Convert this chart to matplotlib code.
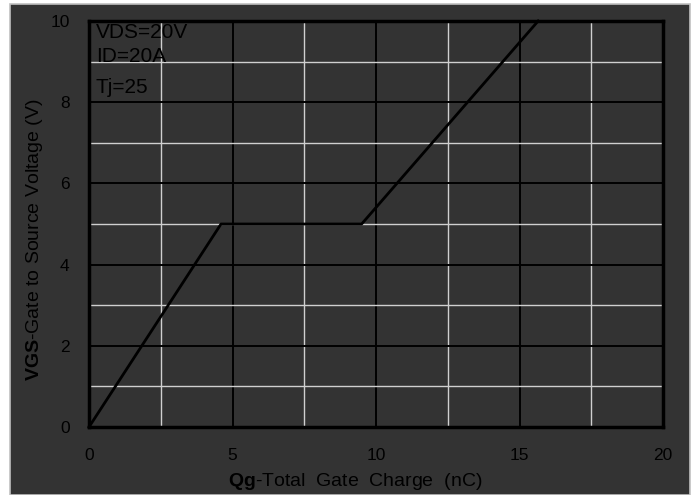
import matplotlib
matplotlib.use("Agg")
import matplotlib.pyplot as plt
from matplotlib.patches import Rectangle
from matplotlib.ticker import MultipleLocator

# Gate charge curve: Qg (nC) vs VGS (V)
qg = [0.0, 4.6, 9.5, 15.65]
vgs = [0.0, 5.0, 5.0, 10.0]

x_ticks = [0, 5, 10, 15, 20]
y_ticks = [0, 2, 4, 6, 8, 10]
conditions = ["VDS=20V", "ID=20A", "Tj=25"]

plt.rcParams["font.family"] = ["Liberation Sans", "DejaVu Sans"]
plt.rcParams["mathtext.fontset"] = "custom"
plt.rcParams["mathtext.bf"] = "Liberation Sans:bold"
plt.rcParams["mathtext.rm"] = "Liberation Sans"

bg = "#333333"
fig = plt.figure(figsize=(6.93, 4.95), dpi=100)
fig.patch.set_facecolor("white")
fig.patches.append(Rectangle((10 / 693, 0), 680 / 693, 1 - 4 / 495,
                             transform=fig.transFigure, facecolor=bg,
                             edgecolor="#c0c0c0", linewidth=1.2, zorder=-10))

ax = fig.add_axes([89 / 693, 1 - 427 / 495, 574 / 693, 406 / 495])
ax.set_facecolor(bg)
ax.set_xlim(0, 20)
ax.set_ylim(0, 10)
ax.set_xticks(x_ticks)
ax.set_yticks(y_ticks)
ax.xaxis.set_minor_locator(MultipleLocator(2.5))
ax.yaxis.set_minor_locator(MultipleLocator(1))

ax.grid(which="major", color="black", linewidth=1.4)
ax.grid(which="minor", color="#d0d0d0", linewidth=1.0)
ax.set_axisbelow(True)
ax.tick_params(which="both", length=0)
ax.tick_params(axis="x", pad=15, labelsize=12.5, labelcolor="black")
ax.tick_params(axis="y", pad=14, labelsize=12.5, labelcolor="black")
for s in ax.spines.values():
    s.set_color("black")
    s.set_linewidth(2.5)

ax.plot(qg, vgs, color="black", linewidth=2.0, zorder=3, clip_on=False)

for i, t in enumerate(conditions):
    ax.text(0.012, [0.995, 0.935, 0.86][i], t, transform=ax.transAxes,
            ha="left", va="top", fontsize=15, color="black")

fig.text(355 / 693, 1 - 481 / 495, r"$\mathbf{Qg}$-Total  Gate  Charge  (nC)",
         ha="center", va="center", fontsize=14, color="black")
fig.text(35 / 693, 1 - 240 / 495, r"$\mathbf{VGS}$-Gate to Source Voltage (V)",
         ha="center", va="center", rotation=90, fontsize=14, color="black")

fig.savefig("out.png", dpi=100, facecolor=fig.get_facecolor())
